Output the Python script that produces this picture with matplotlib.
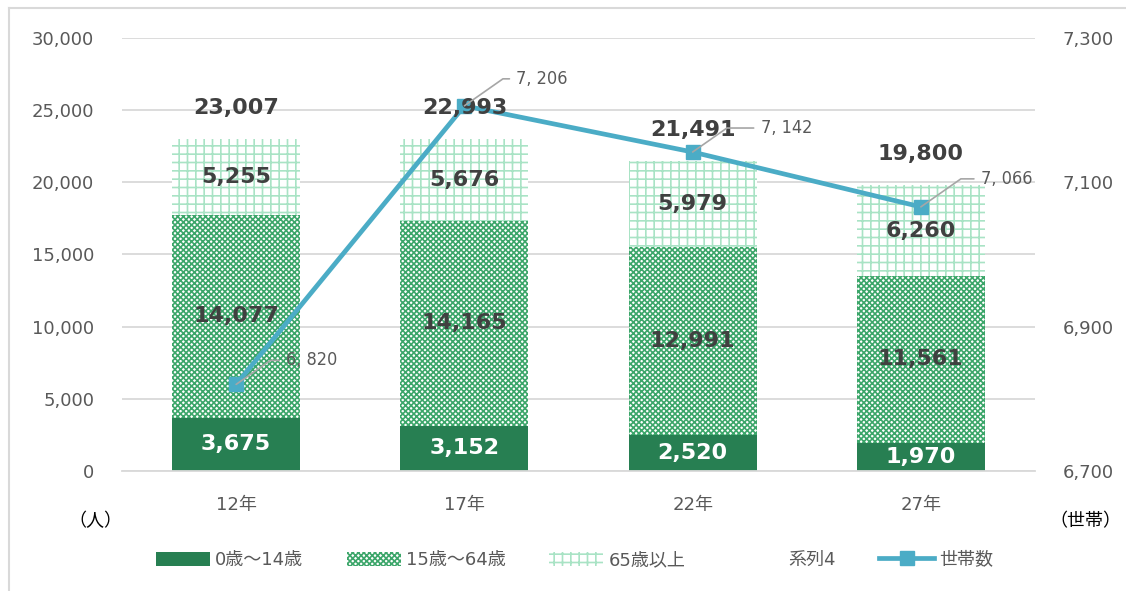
import matplotlib
matplotlib.use("Agg")
import matplotlib.pyplot as plt
from matplotlib.patches import Patch
from matplotlib.lines import Line2D

plt.rcParams['font.family'] = ['DejaVu Sans', 'Noto Sans CJK JP']
plt.rcParams['hatch.linewidth'] = 1.2

years = ["12年", "17年", "22年", "27年"]
age_0_14 = [3675, 3152, 2520, 1970]
age_15_64 = [14077, 14165, 12991, 11561]
age_65_up = [5255, 5676, 5979, 6260]
totals = [23007, 22993, 21491, 19800]
households = [6820, 7206, 7142, 7066]
household_labels = ["6, 820", "7, 206", "7, 142", "7, 066"]

GRAY = "#595959"
DARK = "#404040"
C_YOUNG = "#277F52"
C_MID = "#3CA66A"
C_OLD = "#A9E3C5"
C_LINE = "#4BACC6"

fig = plt.figure(figsize=(11.26, 5.91), dpi=100)
ax = fig.add_axes([122 / 1126, 1 - 471 / 591, (1035 - 122) / 1126, (471 - 38) / 591])
ax2 = ax.twinx()

x = list(range(len(years)))
w = 0.56

ax.bar(x, age_0_14, w, color=C_YOUNG, linewidth=0, zorder=2)
bottom2 = age_0_14
ax.bar(x, age_15_64, w, bottom=bottom2, facecolor="white", edgecolor=C_MID,
       hatch="xxxxxx", linewidth=0, zorder=2)
bottom3 = [a + b for a, b in zip(age_0_14, age_15_64)]
ax.bar(x, age_65_up, w, bottom=bottom3, facecolor="white", edgecolor=C_OLD,
       hatch="++", linewidth=0, zorder=2)

ax.set_ylim(0, 30000)
ax.set_xlim(-0.5, len(years) - 0.5)
ax.set_yticks(range(0, 30001, 5000))
ax.set_yticklabels([f"{v:,}" for v in range(0, 30001, 5000)])
ax.yaxis.grid(True, color="#D9D9D9", linewidth=1.3, zorder=0)
ax.set_axisbelow(True)
ax.set_xticks(x)
ax.set_xticklabels(years)
for s in ax.spines.values():
    s.set_visible(False)
for s in ax2.spines.values():
    s.set_visible(False)
ax.spines['bottom'].set_visible(True)
ax.spines['bottom'].set_color("#D9D9D9")
ax.spines['bottom'].set_linewidth(1.3)
ax.tick_params(axis='y', length=0, pad=20, labelsize=13, labelcolor=GRAY)
ax.tick_params(axis='x', length=0, pad=18, labelsize=13, labelcolor=GRAY)

# households line
ax2.plot(x, households, color=C_LINE, linewidth=3.4, marker="s", markersize=10, zorder=4)
ax2.set_ylim(6700, 7300)
ax2.set_yticks(range(6700, 7301, 200))
ax2.set_yticklabels([f"{v:,}" for v in range(6700, 7301, 200)])
ax2.tick_params(axis='y', length=0, pad=20, labelsize=13, labelcolor=GRAY)

# segment labels (drawn on ax2 so they sit above the line)
for i in x:
    ax2.text(i, age_0_14[i] / 2, f"{age_0_14[i]:,}", transform=ax.transData, ha="center", va="center",
             color="white", fontsize=16, fontweight="bold", zorder=5)
    ax2.text(i, bottom2[i] + age_15_64[i] / 2, f"{age_15_64[i]:,}", transform=ax.transData,
             ha="center", va="center", color=DARK, fontsize=16, fontweight="bold", zorder=5)
    ax2.text(i, bottom3[i] + age_65_up[i] / 2, f"{age_65_up[i]:,}", transform=ax.transData,
             ha="center", va="center", color=DARK, fontsize=16, fontweight="bold", zorder=5)
    ax2.annotate(f"{totals[i]:,}", (i, totals[i]), xycoords=ax.transData, xytext=(0, 31),
                 textcoords="offset pixels", ha="center", va="center", color=DARK,
                 fontsize=16, fontweight="bold", zorder=5)

label_offsets = [(50, 24), (52, 27), (68, 24), (60, 28)]
for i in x:
    dx, dy = label_offsets[i]
    ax2.annotate(household_labels[i], (i, households[i]), xytext=(dx, dy), textcoords="offset pixels",
                 ha="left", va="center", color=GRAY, fontsize=13, fontstretch="condensed",
                 arrowprops=dict(arrowstyle="-", color="#A6A6A6", lw=1.2, shrinkA=3, shrinkB=0,
                                 relpos=(0, 0.5), connectionstyle="angle,angleA=0,angleB=35,rad=0"),
                 zorder=6)

fig.text(95 / 1126, 1 - 521 / 591, "（人）", ha="center", va="center", fontsize=13, color="black")
fig.text(1085 / 1126, 1 - 521 / 591, "（世帯）", ha="center", va="center", fontsize=13, color="black")

handles = [
    Patch(facecolor=C_YOUNG, linewidth=0),
    Patch(facecolor="white", edgecolor=C_MID, hatch="xxxxxx", linewidth=0),
    Patch(facecolor="white", edgecolor=C_OLD, hatch="++", linewidth=0),
    Patch(facecolor="none", edgecolor="none"),
    Line2D([0], [0], color=C_LINE, linewidth=3.4, marker="s", markersize=10),
]
names = ["0歳～14歳", "15歳～64歳", "65歳以上", "系列4", "世帯数"]
leg = fig.legend(handles, names, loc="center", bbox_to_anchor=(0.51, 1 - 560 / 591), ncol=5,
                 frameon=False, fontsize=13, handlelength=3.0, handleheight=0.8,
                 columnspacing=2.4, handletextpad=0.3)
for t in leg.get_texts():
    t.set_color(GRAY)

fig.add_artist(Line2D([9 / 1126, 1], [1 - 8 / 591, 1 - 8 / 591], color="#D9D9D9", linewidth=1.5))
fig.add_artist(Line2D([9 / 1126, 9 / 1126], [0, 1 - 8 / 591], color="#D9D9D9", linewidth=1.5))

fig.savefig("out.png", dpi=100)
